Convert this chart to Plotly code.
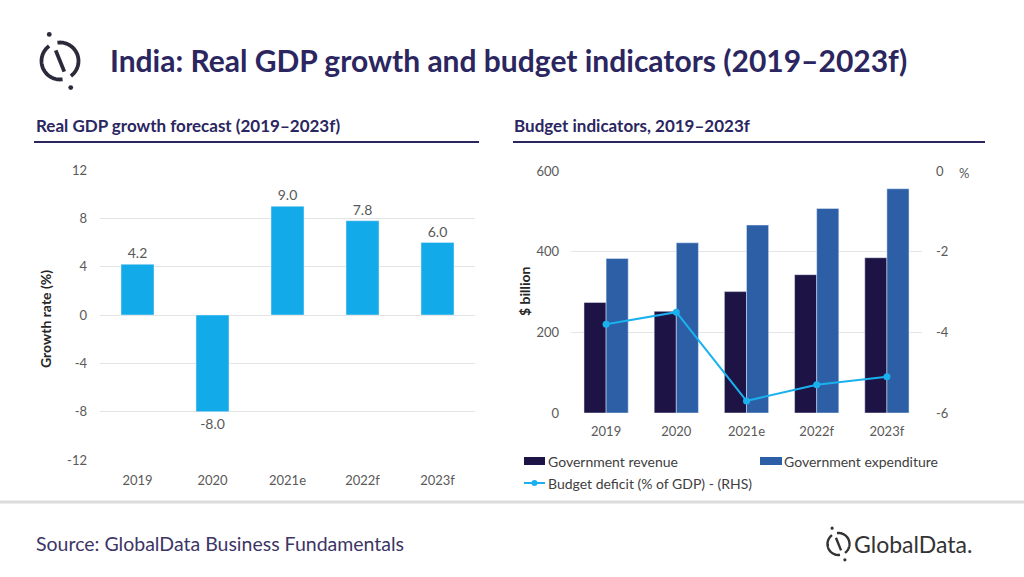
import math
import plotly.graph_objects as go

# ---------------- data ----------------
years = ["2019", "2020", "2021e", "2022f", "2023f"]
gdp_growth = [4.2, -8.0, 9.0, 7.8, 6.0]
gov_revenue = [274, 252, 301, 343, 385]
gov_expenditure = [383, 422, 466, 507, 556]
budget_deficit = [-3.8, -3.5, -5.7, -5.3, -5.1]

left_ticks = [12, 8, 4, 0, -4, -8, -12]
left_tick_text = ["12", "8", "4", "0", "-4", "-8", "-12"]
right_ticks = [0, 200, 400, 600]
rhs_ticks = [0, -2, -4, -6]
rhs_tick_text = ["0", "-2", "-4", "-6"]

W, H = 1024, 577
FONT = "Lato"
NAVY = "#2b2660"
TICK = "#595959"
GRID = "#e4e4e4"


def px(x, y):
    return x / W, 1 - y / H


def poly_path(points):
    s = ""
    for i, (x, y) in enumerate(points):
        a, b = px(x, y)
        s += ("M" if i == 0 else "L") + f"{a:.5f},{b:.5f} "
    return s.strip()


def arc(cx, cy, r, a0, a1, n=36):
    pts = []
    for i in range(n + 1):
        t = math.radians(a0 + (a1 - a0) * i / n)
        pts.append((cx + r * math.cos(t), cy - r * math.sin(t)))
    return pts


fig = go.Figure()

# left chart
fig.add_trace(go.Bar(
    x=years, y=gdp_growth, marker_color="#13aaea", width=0.44,
    texttemplate="%{y:.1f}", textposition="outside",
    textfont=dict(family=FONT, size=14, color=TICK), cliponaxis=False,
    xaxis="x", yaxis="y", showlegend=False,
))

# right chart
fig.add_trace(go.Bar(
    x=years, y=gov_revenue, marker_color="#1d1445", name="Government revenue",
    xaxis="x2", yaxis="y2", showlegend=False, offsetgroup="a",
))
fig.add_trace(go.Bar(
    x=years, y=gov_expenditure, marker_color="#2d5fa6", name="Government expenditure",
    xaxis="x2", yaxis="y2", showlegend=False, offsetgroup="b",
))
fig.add_trace(go.Scatter(
    x=years, y=budget_deficit, mode="lines+markers",
    line=dict(color="#1ab1ee", width=2), marker=dict(size=7, color="#1ab1ee"),
    name="Budget deficit (% of GDP) - (RHS)",
    xaxis="x2", yaxis="y3", showlegend=False, cliponaxis=False,
))

tickfont = dict(family=FONT, size=13, color=TICK)

fig.update_layout(
    width=W, height=H, autosize=False,
    margin=dict(l=0, r=0, t=0, b=0, pad=0, autoexpand=False),
    paper_bgcolor="white", plot_bgcolor="white",
    bargap=0.37, bargroupgap=0,
    xaxis=dict(domain=[100 / W, 475 / W], anchor="y", tickfont=tickfont,
               showgrid=False, showline=False, ticks="", ticklabelstandoff=11,
               automargin=False),
    yaxis=dict(domain=[1 - 460 / H, 1 - 170 / H], anchor="x", range=[-12, 12],
               tickvals=left_ticks, ticktext=left_tick_text, tickfont=tickfont,
               gridcolor=GRID, zeroline=True, zerolinecolor=GRID, zerolinewidth=1,
               showline=False, ticks="", ticklabelstandoff=12, automargin=False),
    xaxis2=dict(domain=[571 / W, 922 / W], anchor="y2", tickfont=tickfont,
                showgrid=False, showline=False, ticks="", ticklabelstandoff=9,
                automargin=False),
    yaxis2=dict(domain=[1 - 413 / H, 1 - 171 / H], anchor="x2", range=[0, 600],
                tickvals=right_ticks, tickfont=tickfont, gridcolor=GRID,
                zeroline=False, showline=False, ticks="", ticklabelstandoff=11,
                automargin=False),
    yaxis3=dict(overlaying="y2", anchor="x2", side="right", range=[-6, 0],
                tickvals=rhs_ticks, ticktext=rhs_tick_text, tickfont=tickfont,
                showgrid=False, zeroline=False, showline=False, ticks="",
                ticklabelstandoff=13, automargin=False),
)

ann = []
shapes = []

# Title
ann.append(dict(text="<b>India: Real GDP growth and budget indicators (2019–2023f)</b>",
                x=108 / W, y=1 - 60 / H, xref="paper", yref="paper",
                xanchor="left", yanchor="middle", showarrow=False,
                font=dict(family=FONT, size=30, color=NAVY)))
# subtitles
ann.append(dict(text="<b>Real GDP growth forecast (2019–2023f)</b>",
                x=34 / W, y=1 - 126 / H, xref="paper", yref="paper",
                xanchor="left", yanchor="middle", showarrow=False,
                font=dict(family=FONT, size=17, color=NAVY)))
ann.append(dict(text="<b>Budget indicators, 2019–2023f</b>",
                x=512 / W, y=1 - 126 / H, xref="paper", yref="paper",
                xanchor="left", yanchor="middle", showarrow=False,
                font=dict(family=FONT, size=17, color=NAVY)))
shapes.append(dict(type="line", xref="paper", yref="paper",
                   x0=34 / W, x1=479 / W, y0=1 - 142 / H, y1=1 - 142 / H,
                   line=dict(color=NAVY, width=2)))
shapes.append(dict(type="line", xref="paper", yref="paper",
                   x0=513 / W, x1=985 / W, y0=1 - 142 / H, y1=1 - 142 / H,
                   line=dict(color=NAVY, width=2)))

# axis titles
ann.append(dict(text="<b>Growth rate (%)</b>", x=45 / W, y=1 - 319 / H,
                xref="paper", yref="paper", textangle=-90, showarrow=False,
                xanchor="center", yanchor="middle",
                font=dict(family=FONT, size=14, color="#262626")))
ann.append(dict(text="<b>$ billion</b>", x=524 / W, y=1 - 291 / H,
                xref="paper", yref="paper", textangle=-90, showarrow=False,
                xanchor="center", yanchor="middle",
                font=dict(family=FONT, size=14, color="#262626")))
ann.append(dict(text="%", x=964 / W, y=1 - 173 / H, xref="paper", yref="paper",
                showarrow=False, xanchor="center", yanchor="middle",
                font=dict(family=FONT, size=13, color=TICK)))

# manual legend
legfont = dict(family=FONT, size=14, color="#404040")
shapes.append(dict(type="rect", xref="paper", yref="paper",
                   x0=524 / W, x1=545 / W, y0=1 - 465 / H, y1=1 - 457 / H,
                   fillcolor="#1d1445", line=dict(width=0)))
ann.append(dict(text="Government revenue", x=546 / W, y=1 - 461 / H,
                xref="paper", yref="paper", showarrow=False,
                xanchor="left", yanchor="middle", font=legfont))
shapes.append(dict(type="rect", xref="paper", yref="paper",
                   x0=760 / W, x1=782 / W, y0=1 - 465 / H, y1=1 - 457 / H,
                   fillcolor="#2d5fa6", line=dict(width=0)))
ann.append(dict(text="Government expenditure", x=782 / W, y=1 - 461 / H,
                xref="paper", yref="paper", showarrow=False,
                xanchor="left", yanchor="middle", font=legfont))
shapes.append(dict(type="line", xref="paper", yref="paper",
                   x0=524 / W, x1=545 / W, y0=1 - 483 / H, y1=1 - 483 / H,
                   line=dict(color="#1ab1ee", width=2)))
shapes.append(dict(type="circle", xref="paper", yref="paper",
                   x0=531.5 / W, x1=537.5 / W, y0=1 - 486 / H, y1=1 - 480 / H,
                   fillcolor="#1ab1ee", line=dict(width=0)))
ann.append(dict(text="Budget deficit (% of GDP) - (RHS)", x=546 / W, y=1 - 483 / H,
                xref="paper", yref="paper", showarrow=False,
                xanchor="left", yanchor="middle", font=legfont))

# bottom separator and source
shapes.append(dict(type="line", xref="paper", yref="paper",
                   x0=0, x1=1, y0=1 - 502 / H, y1=1 - 502 / H,
                   line=dict(color="#dcdcdc", width=3)))
ann.append(dict(text="Source: GlobalData Business Fundamentals", x=34 / W, y=1 - 543 / H,
                xref="paper", yref="paper", showarrow=False,
                xanchor="left", yanchor="middle",
                font=dict(family=FONT, size=19.5, color="#3d3566")))
ann.append(dict(text="GlobalData.", x=852 / W, y=1 - 544 / H,
                xref="paper", yref="paper", showarrow=False,
                xanchor="left", yanchor="middle",
                font=dict(family=FONT, size=23, color="#333333")))


def logo(cx, cy, r, color, lw, dot):
    """Circle cut by a steep slash; the slash continues outside as two dots."""
    ang = 112.0                      # direction of the slash (math degrees)
    gap = 14.0
    ux, uy = math.cos(math.radians(ang)), -math.sin(math.radians(ang))  # screen coords
    out = []
    out.append(dict(type="path", xref="paper", yref="paper",
                    path=poly_path(arc(cx, cy, r, ang + gap, ang + 180 - gap)),
                    line=dict(color=color, width=lw)))
    out.append(dict(type="path", xref="paper", yref="paper",
                    path=poly_path(arc(cx, cy, r, ang + 180 + gap, ang + 360 - gap)),
                    line=dict(color=color, width=lw)))
    out.append(dict(type="path", xref="paper", yref="paper",
                    path=poly_path([(cx + ux * r * 0.62, cy + uy * r * 0.62),
                                    (cx - ux * r * 0.62, cy - uy * r * 0.62)]),
                    line=dict(color=color, width=lw)))
    for s in (1.55, -1.55):
        dx, dy = cx + ux * r * s, cy + uy * r * s
        out.append(dict(type="circle", xref="paper", yref="paper",
                        x0=(dx - dot) / W, x1=(dx + dot) / W,
                        y0=1 - (dy + dot) / H, y1=1 - (dy - dot) / H,
                        fillcolor=color, line=dict(width=0)))
    return out


shapes += logo(60, 61, 18.5, "#2a2a3a", 3.8, 2.4)
shapes += logo(838.5, 544, 11, "#333333", 2.4, 1.6)

fig.update_layout(annotations=ann, shapes=shapes)
fig.write_html("out.html", config={"displayModeBar": False},
               post_script="document.body.style.margin='0';document.body.style.overflow='hidden';")
